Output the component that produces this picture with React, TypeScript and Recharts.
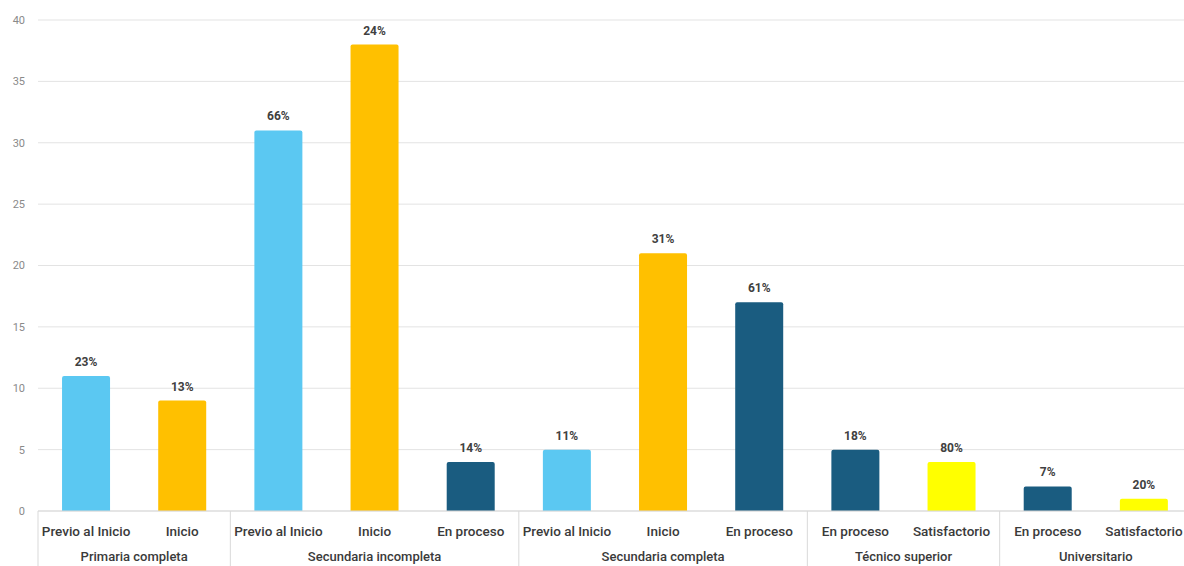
import React from 'react'
import { BarChart, Bar, XAxis, YAxis, CartesianGrid, LabelList, Cell } from 'recharts'

const levels = [
  'Previo al Inicio', 'Inicio',
  'Previo al Inicio', 'Inicio', 'En proceso',
  'Previo al Inicio', 'Inicio', 'En proceso',
  'En proceso', 'Satisfactorio',
  'En proceso', 'Satisfactorio',
]
const groups = [
  'Primaria completa', 'Primaria completa',
  'Secundaria incompleta', 'Secundaria incompleta', 'Secundaria incompleta',
  'Secundaria completa', 'Secundaria completa', 'Secundaria completa',
  'Técnico superior', 'Técnico superior',
  'Universitario', 'Universitario',
]
const counts = [11, 9, 31, 38, 4, 5, 21, 17, 5, 4, 2, 1]
const shares = ['23%', '13%', '66%', '24%', '14%', '11%', '31%', '61%', '18%', '80%', '7%', '20%']
const yTicks = [0, 5, 10, 15, 20, 25, 30, 35, 40]

const levelColor: Record<string, string> = {
  'Previo al Inicio': '#5BC8F2',
  'Inicio': '#FFC000',
  'En proceso': '#1A5C80',
  'Satisfactorio': '#FFFF00',
}

const data = levels.map((level, i) => ({
  idx: i,
  level,
  group: groups[i],
  count: counts[i],
  share: shares[i],
}))

const FONT = 'Roboto, "Open Sans", sans-serif'

function groupSize(i: number) {
  return groups.filter((g) => g === groups[i]).length
}

function isGroupStart(i: number) {
  return i === 0 || groups[i] !== groups[i - 1]
}

function LevelTick(props: any) {
  const { x, y, payload } = props
  const i = payload.value as number
  const half = payload.offset ?? 48
  return (
    <g>
      {isGroupStart(i) && (
        <line x1={x - half} x2={x - half} y1={y} y2={y + 80} stroke="#d9d9d9" />
      )}
      {i === levels.length - 1 && (
        <line x1={x + half} x2={x + half} y1={y} y2={y + 80} stroke="#d9d9d9" />
      )}
      <text x={x} y={y + 25} textAnchor="middle" fontSize={13.5} fontWeight={500}
        fill="#3a3a3a" fontFamily={FONT}>
        {levels[i]}
      </text>
    </g>
  )
}

function GroupTick(props: any) {
  const { x, y, payload } = props
  const i = payload.value as number
  const half = payload.offset ?? 48
  if (!isGroupStart(i)) return null
  const cx = x + (groupSize(i) - 1) * half
  return (
    <text x={cx} y={y + 20} textAnchor="middle" fontSize={13} fontWeight={500}
      fill="#3a3a3a" fontFamily={FONT}>
      {groups[i]}
    </text>
  )
}

export default function App() {
  return (
    <div style={{ position: 'fixed', left: 0, top: 0, width: 1184, height: 566, overflow: 'hidden', background: '#fff' }}>
      <BarChart
        width={1192}
        height={590}
        data={data}
        barCategoryGap="25%"
        margin={{ top: 20, right: 0, left: 0, bottom: 19 }}
      >
        <CartesianGrid vertical={false} stroke="#e3e3e3" />
        <XAxis
          dataKey="idx"
          xAxisId={0}
          tick={<LevelTick />}
          interval={0}
          tickLine={false}
          tickSize={0}
          tickMargin={0}
          axisLine={{ stroke: '#d9d9d9' }}
          height={30}
        />
        <XAxis
          dataKey="idx"
          xAxisId={1}
          tick={<GroupTick />}
          interval={0}
          tickLine={false}
          tickSize={0}
          tickMargin={0}
          axisLine={false}
          height={30}
        />
        <YAxis
          domain={[0, 40]}
          ticks={yTicks}
          width={38}
          axisLine={false}
          tickLine={false}
          tickSize={0}
          tickMargin={13}
          tick={{ fontSize: 11, fill: '#8a8a8a', fontFamily: FONT }}
        />
        <Bar dataKey="count" xAxisId={0} isAnimationActive={false} radius={[2, 2, 0, 0]}>
          {data.map((d, i) => (
            <Cell key={`c-${i}`} fill={levelColor[d.level]} />
          ))}
          <LabelList
            dataKey="share"
            position="top"
            offset={10}
            style={{ fontSize: 12, fontWeight: 700, fill: '#404040', fontFamily: FONT }}
          />
        </Bar>
      </BarChart>
    </div>
  )
}
